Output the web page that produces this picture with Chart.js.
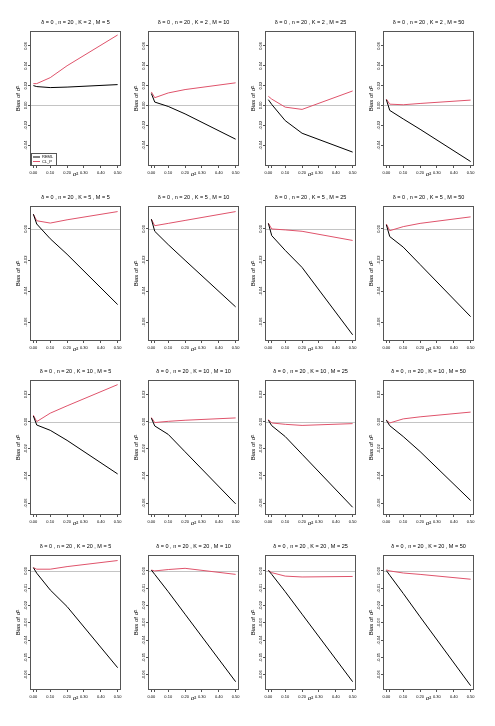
<!DOCTYPE html>
<html><head><meta charset="utf-8">
<script src="https://cdn.jsdelivr.net/npm/chart.js@4.4.1/dist/chart.umd.min.js"></script>
<style>
body{margin:0;background:#fff;width:495px;height:726px;position:relative;overflow:hidden}
.panel{position:absolute;width:124px;height:185px}
</style></head><body>
<script>
const sigma2 = [0, 0.02, 0.1, 0.2, 0.5];
const kValues = [2, 5, 10, 20];
const mValues = [5, 10, 25, 50];

// bias of sigma-hat^2, one array per M (5, 10, 25, 50)
const remlK2 = [
  [0.020, 0.019, 0.018, 0.0185, 0.021],
  [0.012, 0.0034, -0.001, -0.0085, -0.034],
  [0.0058, 0.001, -0.0153, -0.028, -0.047],
  [0.0058, -0.005, -0.0136, -0.024, -0.0565]
];
const clpK2 = [
  [0.022, 0.022, 0.028, 0.040, 0.071],
  [0.0136, 0.0078, 0.0126, 0.016, 0.0228],
  [0.0092, 0.0064, -0.0017, -0.004, 0.0146],
  [0.0064, 0.0013, 0.0007, 0.002, 0.0054]
];
const remlK5 = [
  [0.0095, 0.0032, -0.0063, -0.0163, -0.0487],
  [0.0063, -0.0015, -0.0101, -0.0202, -0.0502],
  [0.0036, -0.0043, -0.0138, -0.0248, -0.0682],
  [0.0027, -0.0049, -0.0117, -0.0229, -0.0565]
];
const clpK5 = [
  [0.0095, 0.0053, 0.0038, 0.0059, 0.0112],
  [0.0063, 0.0021, 0.0036, 0.0055, 0.0112],
  [0.0037, 0.0, -0.0006, -0.0015, -0.0074],
  [0.0032, -0.0011, 0.0015, 0.0036, 0.0078]
];
const remlK10 = [
  [0.0041, -0.0025, -0.0064, -0.0138, -0.0385],
  [0.0025, -0.0032, -0.0094, -0.0222, -0.0605],
  [0.001, -0.003, -0.011, -0.024, -0.063],
  [0.001, -0.003, -0.011, -0.022, -0.058]
];
const clpK10 = [
  [0.0047, 0.0, 0.0062, 0.0116, 0.0272],
  [0.003, -0.0007, 0.0002, 0.001, 0.0027],
  [0.0015, -0.001, -0.002, -0.0028, -0.0015],
  [0.001, -0.001, 0.002, 0.0035, 0.007]
];
const remlK20 = [
  [0.0019, -0.0013, -0.011, -0.0206, -0.0559],
  [0.0005, -0.002, -0.012, -0.025, -0.064],
  [0.0003, -0.002, -0.012, -0.025, -0.064],
  [0.0002, -0.0025, -0.013, -0.0265, -0.0663]
];
const clpK20 = [
  [0.0019, 0.001, 0.001, 0.0025, 0.006],
  [0.0005, 0.0, 0.0008, 0.0015, -0.002],
  [0.0003, -0.001, -0.003, -0.0035, -0.0032],
  [0.0006, 0.0, -0.0012, -0.002, -0.0048]
];

const yTicksK2 = [-0.04, -0.02, 0, 0.02, 0.04, 0.06];
const yTicksK5 = [-0.06, -0.04, -0.02, 0];
const yTicksK10 = [-0.06, -0.04, -0.02, 0, 0.02];
const yTicksK20 = [-0.06, -0.05, -0.04, -0.03, -0.02, -0.01, 0];
const yLimits = [[-0.061, 0.075], [-0.0722, 0.0148], [-0.0687, 0.0306], [-0.0688, 0.0092]];
const xTicks = [0, 0.02, 0.1, 0.2, 0.3, 0.4, 0.5];

const remlRows = [remlK2, remlK5, remlK10, remlK20];
const clpRows = [clpK2, clpK5, clpK10, clpK20];
const yTickRows = [yTicksK2, yTicksK5, yTicksK10, yTicksK20];

const FONT = '"Liberation Sans", Arial, sans-serif';
const RED = '#DF536B';

// box, zero line, titles and legend
const decor = {
  id: 'decor',
  beforeDatasetsDraw(chart) {
    const {ctx, chartArea: a, scales: {y}} = chart;
    const y0 = Math.round(y.getPixelForValue(0)) + 0.5;
    ctx.save();
    ctx.strokeStyle = '#c4c4c4'; ctx.lineWidth = 1;
    ctx.beginPath(); ctx.moveTo(a.left, y0); ctx.lineTo(a.right, y0); ctx.stroke();
    ctx.restore();
  },
  afterDraw(chart, args, opts) {
    const {ctx, chartArea: a} = chart;
    const cx = (a.left + a.right) / 2;
    ctx.save();
    ctx.strokeStyle = '#555'; ctx.lineWidth = 1;
    ctx.strokeRect(a.left + 0.5, a.top + 0.5, a.width - 1, a.height - 1);
    ctx.fillStyle = '#000';
    ctx.textAlign = 'center'; ctx.textBaseline = 'middle';
    ctx.font = '5.5px ' + FONT;
    ctx.fillText(opts.title, cx, a.top - 9);
    ctx.font = '6px ' + FONT;
    ctx.fillText('σ²', cx, a.bottom + 8);
    ctx.save();
    ctx.translate(a.left - 12, (a.top + a.bottom) / 2);
    ctx.rotate(-Math.PI / 2);
    ctx.fillText('Bias of σ̂²', 0, 0);
    ctx.restore();
    if (opts.legend) {
      const lx = a.left + 1, ly = a.bottom - 13;
      ctx.strokeStyle = '#555';
      ctx.strokeRect(lx + 0.5, ly + 0.5, 25, 12);
      ctx.font = '4px ' + FONT; ctx.textAlign = 'left';
      chart.data.datasets.forEach((ds, i) => {
        const yy = ly + 4 + i * 4.5;
        ctx.strokeStyle = ds.borderColor;
        ctx.beginPath(); ctx.moveTo(lx + 2, yy); ctx.lineTo(lx + 9, yy); ctx.stroke();
        ctx.fillText(ds.label, lx + 11, yy);
      });
    }
    ctx.restore();
  }
};

function makePanel(r, c) {
  const div = document.createElement('div');
  div.className = 'panel';
  div.style.left = Math.round(117.7 * c) + 'px';
  div.style.top = Math.round(174.7 * r) + 'px';
  const cv = document.createElement('canvas');
  cv.width = 124; cv.height = 185;
  div.appendChild(cv);
  document.body.appendChild(div);

  const yTicks = yTickRows[r];
  new Chart(cv, {
    type: 'line',
    data: {
      labels: sigma2,
      datasets: [
        {label: 'REML', data: remlRows[r][c], borderColor: '#000'},
        {label: 'CL_P', data: clpRows[r][c], borderColor: RED}
      ]
    },
    options: {
      responsive: false,
      animation: false,
      events: [],
      layout: {padding: {top: 31, right: 3, left: 0, bottom: 0}},
      elements: {point: {radius: 0}, line: {borderWidth: 1, tension: 0}},
      plugins: {
        legend: {display: false}, tooltip: {enabled: false},
        decor: {title: `δ = 0 , n = 20 , K = ${kValues[r]} , M = ${mValues[c]}`, legend: r === 0 && c === 0}
      },
      scales: {
        x: {
          type: 'linear', min: -0.02, max: 0.52,
          afterBuildTicks: s => { s.ticks = xTicks.map(v => ({value: v})); },
          afterFit: s => { s.height = 19; },
          grid: {drawOnChartArea: false, drawTicks: true, tickLength: 2, color: '#555'},
          border: {display: false},
          ticks: {font: {size: 4, family: FONT}, color: '#000', padding: 2, maxRotation: 0,
            callback: v => (v === 0.02 ? '' : v.toFixed(2))}
        },
        y: {
          min: yLimits[r][0], max: yLimits[r][1],
          afterBuildTicks: s => { s.ticks = yTicks.map(v => ({value: v})); },
          afterFit: s => { s.width = 30; },
          grid: {drawOnChartArea: false, drawTicks: true, tickLength: 2, color: '#555'},
          border: {display: false},
          ticks: {font: {size: 4, family: FONT}, color: '#000', padding: -2, minRotation: 90, maxRotation: 90,
            crossAlign: 'center', callback: v => v.toFixed(2)}
        }
      }
    },
    plugins: [decor]
  });
}

for (let r = 0; r < 4; r++) for (let c = 0; c < 4; c++) makePanel(r, c);
</script>
</body></html>
